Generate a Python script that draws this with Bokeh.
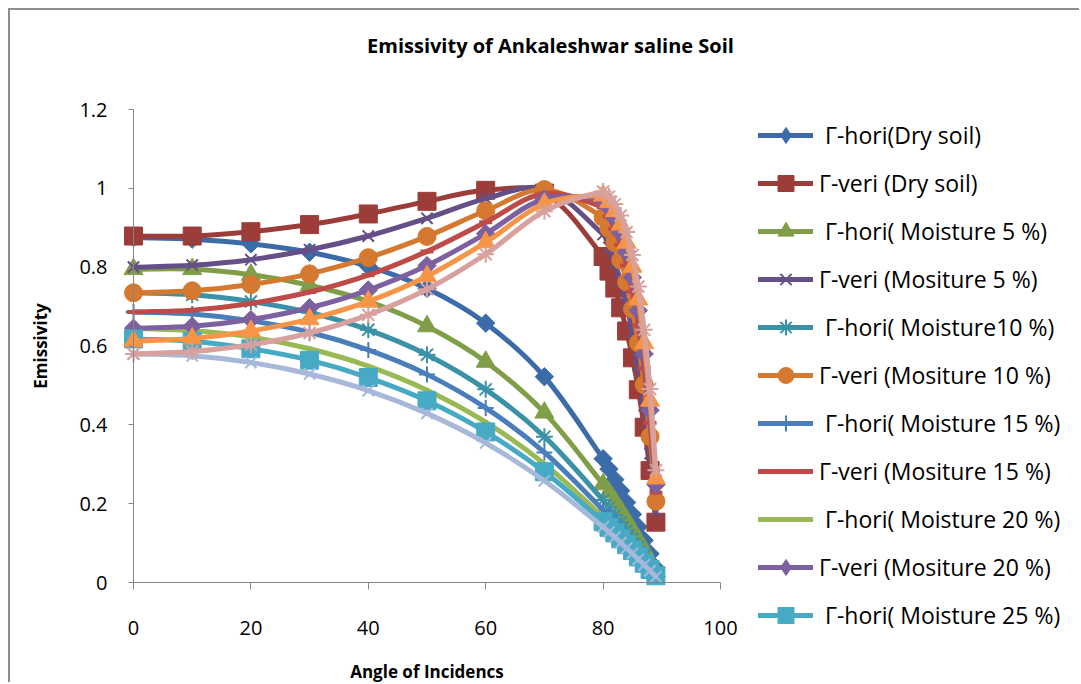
import numpy as np
from bokeh.plotting import figure
from bokeh.models import (Legend, LegendItem, Label, Range1d, FixedTicker,
                          CustomJSTickFormatter)
from bokeh.embed import file_html
from bokeh.resources import INLINE

# ---------------- data ----------------
angles = [0, 10, 20, 30, 40, 50, 60, 70, 80, 81, 82, 83, 84, 85, 86, 87, 88, 89]

hori_dry = [0.875, 0.871, 0.859, 0.838, 0.802, 0.746, 0.658, 0.522, 0.314, 0.288, 0.261, 0.233, 0.203, 0.173, 0.141, 0.107, 0.073, 0.037]
veri_dry = [0.879, 0.879, 0.890, 0.908, 0.935, 0.967, 0.995, 0.988, 0.827, 0.790, 0.747, 0.697, 0.638, 0.570, 0.489, 0.394, 0.284, 0.153]
hori_5 = [0.795, 0.795, 0.781, 0.754, 0.713, 0.650, 0.560, 0.431, 0.249, 0.228, 0.206, 0.183, 0.159, 0.134, 0.109, 0.083, 0.056, 0.028]
veri_5 = [0.800, 0.805, 0.819, 0.844, 0.879, 0.924, 0.974, 0.999, 0.883, 0.850, 0.811, 0.763, 0.705, 0.635, 0.551, 0.449, 0.327, 0.180]
hori_10 = [0.735, 0.730, 0.713, 0.685, 0.641, 0.578, 0.490, 0.370, 0.209, 0.190, 0.171, 0.152, 0.132, 0.111, 0.090, 0.068, 0.046, 0.023]
veri_10 = [0.735, 0.740, 0.756, 0.783, 0.824, 0.878, 0.943, 0.997, 0.926, 0.898, 0.862, 0.818, 0.762, 0.694, 0.608, 0.502, 0.370, 0.206]
hori_15 = [0.686, 0.681, 0.664, 0.635, 0.590, 0.528, 0.443, 0.330, 0.184, 0.168, 0.151, 0.133, 0.116, 0.097, 0.079, 0.060, 0.040, 0.020]
veri_15 = [0.686, 0.691, 0.708, 0.737, 0.780, 0.840, 0.914, 0.987, 0.952, 0.929, 0.897, 0.857, 0.804, 0.738, 0.652, 0.543, 0.405, 0.228]
hori_20 = [0.645, 0.639, 0.623, 0.593, 0.549, 0.488, 0.407, 0.301, 0.166, 0.151, 0.136, 0.120, 0.104, 0.087, 0.071, 0.053, 0.036, 0.018]
veri_20 = [0.645, 0.650, 0.667, 0.697, 0.742, 0.804, 0.885, 0.973, 0.971, 0.951, 0.924, 0.887, 0.838, 0.774, 0.690, 0.580, 0.437, 0.248]
hori_25 = [0.618, 0.612, 0.593, 0.564, 0.520, 0.461, 0.382, 0.281, 0.154, 0.140, 0.126, 0.111, 0.096, 0.081, 0.065, 0.049, 0.033, 0.017]
veri_25 = [0.612, 0.619, 0.638, 0.668, 0.713, 0.777, 0.863, 0.961, 0.982, 0.965, 0.942, 0.908, 0.862, 0.801, 0.718, 0.607, 0.461, 0.264]
hori_30 = [0.580, 0.575, 0.558, 0.529, 0.487, 0.429, 0.354, 0.258, 0.141, 0.128, 0.115, 0.101, 0.087, 0.074, 0.059, 0.045, 0.030, 0.015]
veri_30 = [0.580, 0.586, 0.603, 0.633, 0.679, 0.744, 0.833, 0.942, 0.992, 0.979, 0.960, 0.931, 0.889, 0.831, 0.751, 0.641, 0.491, 0.285]

labels = [" \u0393-hori(Dry soil)", "\u0393-veri (Dry soil)",
          " \u0393-hori( Moisture 5 %)", "\u0393-veri (Mositure 5 %)",
          " \u0393-hori( Moisture10 %)", "\u0393-veri (Mositure 10 %)",
          " \u0393-hori( Moisture 15 %)", "\u0393-veri (Mositure 15 %)",
          " \u0393-hori( Moisture 20 %)", "\u0393-veri (Mositure 20 %)",
          " \u0393-hori( Moisture 25 %)", "\u0393-veri (Mositure 25 %)",
          " \u0393-hori( Moisture 30 %)", "\u0393-veri (Mositure 30 %)"]
values = [hori_dry, veri_dry, hori_5, veri_5, hori_10, veri_10, hori_15,
          veri_15, hori_20, veri_20, hori_25, veri_25, hori_30, veri_30]
colors = ["#3C6CA8", "#9C3D3A", "#7F9E47", "#654F87", "#3B92A6", "#D4792F",
          "#4A7EBB", "#BE4B48", "#98B954", "#7D60A0", "#46AAC5", "#F69545",
          "#A7B8D9", "#D9A19E"]
markers = ["diamond", "square", "triangle", "x", "asterisk", "circle", "cross",
           "dash", None, "diamond", "square", "triangle", "x", "asterisk"]
sizes = [13, 18, 19, 16, 17, 18, 16, 13, 0, 13, 18, 19, 16, 17]
legend_count = 11

x_ticks = [0, 20, 40, 60, 80, 100]
y_ticks = [0, 0.2, 0.4, 0.6, 0.8, 1, 1.2]
title_text = "Emissivity of Ankaleshwar saline Soil"

# ---------------- layout constants (pixels) ----------------
W, H = 1071, 674          # canvas; placed at page (10, 10) after margin + border
FRAME_L, FRAME_R = 123, 710   # plot area in canvas pixels
FRAME_T, FRAME_B = 99, 572
SX = (FRAME_R - FRAME_L) / 100.0
SY = (FRAME_B - FRAME_T) / 1.2
LINE_W = 5

x_range = Range1d(-FRAME_L / SX, (W - FRAME_L) / SX)
y_range = Range1d(-(H - FRAME_B) / SY, 1.2 + FRAME_T / SY)

p = figure(width=W, height=H, output_backend="svg", toolbar_location=None,
           x_range=x_range, y_range=y_range, title_location=None,
           min_border=0)
p.styles = {"margin-left": "8px", "margin-top": "8px",
            "border-left": "2px solid #8d8d8d", "border-top": "2px solid #8d8d8d"}
p.xgrid.visible = False
p.ygrid.visible = False
p.outline_line_color = None
p.background_fill_color = "white"
p.border_fill_color = "white"

for ax in (p.xaxis[0], p.yaxis[0]):
    ax.fixed_location = 0
    ax.axis_line_color = "#868686"
    ax.major_tick_line_color = "#868686"
    ax.minor_tick_line_color = None
    ax.major_tick_in = 0
    ax.major_label_text_font = "Open Sans"
    ax.major_label_text_font_size = "20px"
    ax.major_label_text_color = "black"
    ax.axis_label_text_font = "Open Sans"
    ax.axis_label_text_font_size = "17px"
    ax.axis_label_text_font_style = "bold"
    ax.axis_label_text_color = "black"
    ax.formatter = CustomJSTickFormatter(code="return String(Math.round(tick*10)/10);")

p.xaxis.bounds = (x_ticks[0], x_ticks[-1])
p.yaxis.bounds = (y_ticks[0], y_ticks[-1])
p.xaxis.ticker = FixedTicker(ticks=x_ticks)
p.yaxis.ticker = FixedTicker(ticks=y_ticks)
p.xaxis.major_tick_out = 7
p.yaxis.major_tick_out = 5
p.xaxis.major_label_standoff = 31
p.yaxis.major_label_standoff = 21
p.xaxis.axis_label = "Angle of Incidencs"
p.yaxis.axis_label = "Emissivity"
p.xaxis.axis_label_standoff = 22
p.yaxis.axis_label_standoff = 24


def smooth_segments(xs, ys):
    P = np.column_stack([np.asarray(xs, float) * SX, np.asarray(ys, float) * SY])
    n = len(P)
    out = {k: [] for k in ("x0", "y0", "x1", "y1", "cx0", "cy0", "cx1", "cy1")}
    for i in range(n - 1):
        p0 = P[i - 1] if i > 0 else P[i]
        p1, p2 = P[i], P[i + 1]
        p3 = P[i + 2] if i + 2 < n else P[i + 1]
        d0 = np.linalg.norm(p1 - p0)
        d1 = np.linalg.norm(p2 - p1)
        d2 = np.linalg.norm(p3 - p2)
        c1 = p1 + (p2 - p0) * (d1 / (d0 + d1)) / 3 if d0 + d1 > 0 else p1
        c2 = p2 - (p3 - p1) * (d1 / (d1 + d2)) / 3 if d1 + d2 > 0 else p2
        out["x0"].append(p1[0] / SX); out["y0"].append(p1[1] / SY)
        out["x1"].append(p2[0] / SX); out["y1"].append(p2[1] / SY)
        out["cx0"].append(c1[0] / SX); out["cy0"].append(c1[1] / SY)
        out["cx1"].append(c2[0] / SX); out["cy1"].append(c2[1] / SY)
    return out


items = []
for i, (lab, ys, col, mk, sz) in enumerate(zip(labels, values, colors, markers, sizes)):
    seg = smooth_segments(angles, ys)
    p.bezier(line_color=col, line_width=LINE_W, line_cap="round", **seg)
    # one-point line: draws nothing in the plot, gives the legend its line swatch
    rends = [p.line(x=angles[:1], y=ys[:1], line_color=col, line_width=LINE_W,
                    line_cap="round")]
    if mk is not None:
        if mk in ("x", "asterisk", "cross"):
            sc = p.scatter(angles, ys, marker=mk, size=sz, line_color=col, line_width=2)
            rends.append(sc)
        elif mk == "dash":
            p.scatter(angles, ys, marker=mk, size=sz, line_color=col, line_width=4)
        elif mk == "diamond":
            p.scatter(angles, ys, marker="square", angle=np.pi / 4, size=sz,
                      fill_color=col, line_color=col)
            # legend swatch marker, hidden under the first rotated square
            rends.append(p.scatter(angles[:1], ys[:1], marker="diamond", size=16,
                                   fill_color=col, line_color=col))
        else:
            sc = p.scatter(angles, ys, marker=mk, size=sz, fill_color=col, line_color=col)
            rends.append(sc)
    if i < legend_count:
        items.append(LegendItem(label=lab, renderers=rends))

# legend: first entry centred 125 px below canvas top, entries 48 px apart
legend = Legend(items=items, location=(748, H - 625),
                orientation="vertical",
                glyph_width=55, glyph_height=40, label_height=20, spacing=8,
                padding=0, margin=0, border_line_color=None,
                background_fill_alpha=0, label_text_font="Open Sans",
                label_text_font_size="23px", label_standoff=6,
                label_text_color="black")
p.add_layout(legend)

title = Label(x=(540 - FRAME_L) / SX, y=1.2 + (FRAME_T - 35) / SY,
              text=title_text, text_align="center", text_baseline="middle",
              text_font="Open Sans", text_font_size="20px",
              text_font_style="bold", text_color="black")
p.add_layout(title)

open("out.html", "w").write(file_html(p, INLINE))
